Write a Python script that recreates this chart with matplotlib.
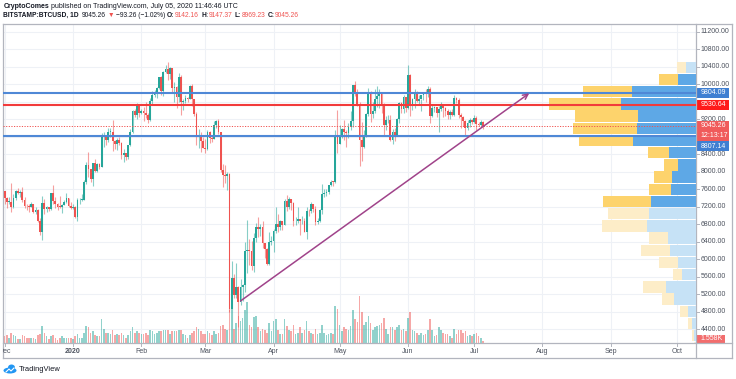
import datetime as dt
import numpy as np
import matplotlib
matplotlib.use("Agg")
import matplotlib.pyplot as plt
from matplotlib.patches import Rectangle, Ellipse
from matplotlib.lines import Line2D
from matplotlib.transforms import Bbox, TransformedBbox

plt.rcParams['font.family'] = ['Liberation Sans', 'DejaVu Sans']

# ---------------- data (BITSTAMP:BTCUSD, daily) ----------------
first_day = dt.date(2019, 11, 30)

opens = [
    7760,
    7555, 7400, 7300, 7300, 7200, 7395, 7545, 7505, 7525, 7345, 7220, 7205, 7195, 7255, 7065, 7115,
    6880, 6615, 7285, 7150, 7190, 7145, 7515, 7320, 7255, 7195, 7190, 7245, 7305, 7385, 7220,
    7170, 7180, 6950, 7340, 7350, 7355, 7760, 8150, 8060, 7820, 8190, 8020, 8180, 8110, 8810, 8820,
    8720, 8900, 8910, 8700, 8630, 8730, 8660, 8380, 8430, 8330, 8600, 8900, 9390, 9290, 9500,
    9340, 9380, 9330, 9290, 9180, 9610, 9750, 9800, 9900, 10160, 9850, 10270, 10350, 10240, 10360,
    9900, 9930, 9700, 10170, 9600, 9610, 9690, 9670, 9960, 9650, 9320, 8780, 8790, 8690,
    8530, 8520, 8900, 8760, 8750, 9070, 9150, 8900, 8030, 7930, 7900, 7940, 4860, 5560, 5170, 5360,
    5020, 5360, 5410, 6190, 6200, 6180, 5830, 6470, 6740, 6680, 6730, 6370, 6240, 5880, 6390,
    6410, 6640, 6800, 6730, 6860, 6770, 7330, 7200, 7370, 7290, 6860, 6880, 6910, 6860, 6860,
    6620, 7110, 7090, 7260, 7150, 6840, 6860, 7120, 7480, 7500, 7540, 7700, 7770, 7760, 8780,
    8620, 8830, 8970, 8900, 8880, 9030, 9150, 9970, 9800, 9540, 8730, 8570, 8810, 9310, 9790, 9310,
    9380, 9670, 9730, 9780, 9510, 9060, 9170, 9180, 8720, 8900, 8840, 9200, 9570, 9430, 9700,
    9450, 10200, 9520, 9660, 9790, 9620, 9660, 9750, 9780, 9770, 9880, 9280, 9460, 9470, 9340,
    9430, 9520, 9450, 9380, 9300, 9360, 9290, 9680, 9630, 9290, 9240, 9160, 9000, 9120, 9190,
    9140, 9230, 9090, 9060, 9142.16,
]
highs = [
    7810,
    7560, 7420, 7410, 7750, 7490, 7580, 7630, 7580, 7640, 7410, 7270, 7260, 7310, 7270, 7180, 7140,
    6940, 7440, 7370, 7220, 7200, 7520, 7690, 7430, 7275, 7440, 7270, 7350, 7520, 7400, 7310,
    7250, 7210, 7400, 7400, 7490, 7800, 8220, 8450, 8060, 8200, 8280, 8190, 8190, 8880, 8900, 8840,
    9000, 8990, 9180, 8720, 8760, 8790, 8670, 8520, 8430, 8600, 8980, 9400, 9420, 9570, 9520,
    9430, 9470, 9600, 9330, 9690, 9850, 9860, 9940, 10160, 10180, 10300, 10430, 10500, 10390, 10380,
    10050, 9960, 10250, 10200, 9650, 9760, 9700, 9990, 10000, 9660, 9370, 8980, 8900, 8800,
    8750, 8950, 8920, 8840, 9160, 9170, 9200, 8900, 8180, 8150, 7980, 7970, 5950, 5650, 5920, 5380,
    5550, 5420, 6400, 6900, 6450, 6420, 6600, 6830, 6960, 6790, 6870, 6370, 6260, 6610, 6520,
    6680, 7200, 7040, 6900, 6880, 7370, 7460, 7420, 7380, 7300, 6950, 7180, 6910, 6990, 6930,
    7180, 7140, 7300, 7260, 7220, 6940, 7150, 7720, 7600, 7600, 7700, 7800, 7790, 8950, 9400,
    9060, 9000, 9190, 8950, 9100, 9390, 9980, 10070, 9890, 9580, 9130, 8960, 9330, 9900, 9840, 9580,
    9880, 9950, 9880, 9830, 9560, 9260, 9300, 9300, 8970, 8990, 9220, 9600, 9600, 9740, 9700,
    10430, 10230, 9690, 9880, 9850, 9740, 9670, 9800, 9880, 9960, 9940, 9550, 9490, 9480, 9500,
    9580, 9550, 9480, 9440, 9400, 9420, 9760, 9700, 9680, 9330, 9270, 9190, 9170, 9230, 9200,
    9290, 9270, 9130, 9190, 9147.37,
]
lows = [
    7460,
    7250, 7160, 7250, 7080, 7170, 7340, 7480, 7420, 7300, 7170, 7130, 7080, 7190, 7050, 7020, 6850,
    6560, 6430, 7040, 7080, 7110, 7130, 7270, 7160, 7130, 7160, 7060, 7230, 7280, 7200, 7150,
    7150, 6930, 6870, 7260, 7320, 7350, 7720, 7870, 7770, 7660, 8000, 7980, 8050, 8100, 8570, 8600,
    8680, 8800, 8470, 8520, 8500, 8600, 8290, 8230, 8270, 8290, 8580, 8880, 9240, 9210, 9240,
    9310, 9160, 9230, 9120, 9160, 9530, 9710, 9680, 9880, 9740, 9730, 10250, 10100, 10120, 9800,
    9600, 9450, 9600, 9300, 9400, 9570, 9600, 9660, 9500, 9280, 8600, 8550, 8450, 8530,
    8420, 8500, 8660, 8680, 8750, 8990, 8860, 8000, 7640, 7740, 7590, 4780, 3850, 5100, 5120, 4450,
    4940, 5040, 5250, 5670, 5860, 5760, 5700, 6390, 6500, 6530, 6250, 6030, 5860, 5860, 6330,
    6150, 6590, 6610, 6660, 6660, 6770, 7100, 7150, 7130, 6760, 6780, 6820, 6560, 6790, 6620,
    6460, 6980, 7060, 7080, 6780, 6800, 6840, 7030, 7420, 7450, 7480, 7660, 7680, 7730, 8420,
    8620, 8770, 8720, 8560, 8770, 8950, 9030, 9720, 9500, 8120, 8250, 8550, 8800, 9260, 9130, 9220,
    9350, 9480, 9460, 9330, 8830, 8960, 9100, 8700, 8640, 8700, 8820, 9110, 9330, 9330, 9370,
    9420, 9270, 9400, 9450, 9580, 9530, 9380, 9630, 9600, 9700, 9110, 9250, 9370, 9250, 8900,
    9380, 9250, 9280, 9210, 9200, 9280, 9280, 9560, 9230, 9000, 9040, 8840, 8940, 9020, 9090,
    9100, 8960, 9040, 9050, 8969.23,
]
closes = [
    7555,
    7400, 7300, 7300, 7200, 7395, 7545, 7505, 7525, 7345, 7220, 7205, 7195, 7255, 7065, 7115, 6880,
    6615, 7285, 7150, 7190, 7145, 7515, 7320, 7255, 7195, 7190, 7245, 7305, 7385, 7220, 7170,
    7180, 6950, 7340, 7350, 7355, 7760, 8150, 8060, 7820, 8190, 8020, 8180, 8110, 8810, 8820, 8720,
    8900, 8910, 8700, 8630, 8730, 8660, 8380, 8430, 8330, 8600, 8900, 9390, 9290, 9500, 9340,
    9380, 9330, 9290, 9180, 9610, 9750, 9800, 9900, 10160, 9850, 10270, 10350, 10240, 10360, 9900,
    9930, 9700, 10170, 9600, 9610, 9690, 9670, 9960, 9650, 9320, 8780, 8790, 8690, 8530,
    8520, 8900, 8760, 8750, 9070, 9150, 8900, 8030, 7930, 7900, 7940, 4860, 5560, 5170, 5360, 5020,
    5360, 5410, 6190, 6200, 6180, 5830, 6470, 6740, 6680, 6730, 6370, 6240, 5880, 6390, 6410,
    6640, 6800, 6730, 6860, 6770, 7330, 7200, 7370, 7290, 6860, 6880, 6910, 6860, 6860, 6620,
    7110, 7090, 7260, 7150, 6840, 6860, 7120, 7480, 7500, 7540, 7700, 7770, 7760, 8780, 8620,
    8830, 8970, 8900, 8880, 9030, 9150, 9970, 9800, 9540, 8730, 8570, 8810, 9310, 9790, 9310, 9380,
    9670, 9730, 9780, 9510, 9060, 9170, 9180, 8720, 8900, 8840, 9200, 9570, 9430, 9700, 9450,
    10200, 9520, 9660, 9790, 9620, 9660, 9750, 9780, 9770, 9880, 9280, 9460, 9470, 9340, 9430,
    9520, 9450, 9380, 9300, 9360, 9290, 9680, 9630, 9290, 9240, 9160, 9000, 9120, 9190, 9140,
    9230, 9090, 9060, 9142.16, 9045.26,
]
# volume, thousands of BTC
volumes = [
    6,
    5, 6, 4, 8, 6, 5, 3, 3, 6, 5, 4, 4, 4, 4, 3, 6, 7, 13, 8, 5, 3, 5, 6, 4, 2, 4, 5, 4, 4, 4, 4,
    3, 5, 7, 4, 4, 8, 13, 12, 8, 9, 6, 5, 5, 18, 11, 8, 8, 7, 10, 6, 7, 6, 8, 6, 4, 6, 9, 12, 8, 9, 8,
    7, 7, 8, 6, 10, 9, 7, 8, 9, 9, 10, 10, 10, 7, 9, 9, 9, 10, 10, 7, 6, 4, 6, 8, 9, 12, 11, 9, 7,
    7, 9, 8, 6, 9, 7, 8, 13, 14, 11, 10, 25, 28, 11, 15, 21, 17, 19, 25, 31, 14, 12, 20, 21, 12, 9,
    11, 10, 8, 15, 9,
    17, 18, 10, 7, 7, 18, 13, 10, 9, 14, 7, 8, 12, 8, 10, 17, 9, 8, 7, 11, 7, 8, 14, 8, 6, 7, 8, 7,
    28, 26,
    14, 9, 12, 11, 10, 13, 25, 18, 16, 36, 24, 14, 16, 21, 15, 10, 12, 13, 14, 15, 19, 11, 7, 12, 12,
    10, 12, 14, 10, 11, 9,
    19, 24, 10, 9, 8, 6, 8, 6, 7, 10, 18, 10, 5, 6, 12, 10, 8, 7, 7, 5, 4, 11, 7, 10, 10, 8, 9, 5, 6, 5,
    7, 8, 5, 4, 1.558,
]

# horizontal levels drawn on the chart
resistance_hi = 9804.09
resistance_mid = 9530.64
support = 8807.14
last_price = 9045.26
countdown = "12:13:17"
last_volume_label = "1.558K"

# trend line (date, price)
trend_start = (dt.date(2020, 3, 17), 5041)
trend_end = (dt.date(2020, 7, 26), 9790)

# visible-range volume profile (top row first), thousands of BTC
vp_top = 10513
vp_step = 279
vp_up = [31, 54, 191, 225, 175, 178, 188, 80, 55, 73, 75, 136, 141, 146, 83, 79, 55, 43, 91, 66, 25, 13, 7, 4]
vp_down = [26, 57, 148, 216, 188, 191, 163, 65, 40, 53, 66, 144, 122, 137, 58, 86, 55, 26, 67, 36, 23, 10, 4, 3]
va_rows = (1, 11)  # value area rows (inclusive)

price_ticks = [4400, 4800, 5200, 5600, 6000, 6400, 6800, 7200, 7600, 8000, 8400, 8800,
               9200, 9600, 10000, 10400, 10800, 11200]
hidden_ticks = [8800, 9600]
time_ticks = [(dt.date(2019, 12, 1), "Dec"), (dt.date(2020, 1, 1), "2020"),
              (dt.date(2020, 2, 1), "Feb"), (dt.date(2020, 3, 1), "Mar"),
              (dt.date(2020, 4, 1), "Apr"), (dt.date(2020, 5, 1), "May"),
              (dt.date(2020, 6, 1), "Jun"), (dt.date(2020, 7, 1), "Jul"),
              (dt.date(2020, 8, 1), "Aug"), (dt.date(2020, 9, 1), "Sep"),
              (dt.date(2020, 10, 1), "Oct")]

# ---------------- layout ----------------
W, H, DPI = 736, 379, 100
ref = dt.date(2020, 1, 1)
def dnum(d):
    return (d - ref).days

opens = np.array(opens, float); highs = np.array(highs, float)
lows = np.array(lows, float); closes = np.array(closes, float)
volumes = np.array(volumes, float)
days = np.arange(len(closes)) + dnum(first_day)

fig = plt.figure(figsize=(W / DPI, H / DPI), dpi=DPI)
fig.patch.set_facecolor("white")

def fx(px):
    return px / W
def fy(py):
    return 1 - py / H

L, R, T, B = 3, 696, 24, 343
rect = [fx(L), fy(B), (R - L) / W, (B - T) / H]
X0, X1 = -31.76, 282.67
Y0, Y1 = 4080, 11375

axes = []
for z in range(4):
    a = fig.add_axes(rect, zorder=z)
    a.set_facecolor("none")
    for s in a.spines.values():
        s.set_visible(False)
    a.set_xticks([]); a.set_yticks([])
    a.set_xlim(X0, X1)
    axes.append(a)
ax_grid, ax_vol, ax_vp, ax = axes
ax_grid.set_facecolor("white")
for a in (ax_grid, ax):
    a.set_ylim(Y0, Y1)

def py_of(p):
    return T + (Y1 - p) / (Y1 - Y0) * (B - T)

# grid
grid_c = "#eef1f6"
for p in price_ticks:
    ax_grid.axhline(p, color=grid_c, lw=0.8)
for d, lab in time_ticks:
    ax_grid.axvline(dnum(d), color=grid_c, lw=0.8)

# volume
ax_vol.set_ylim(0, 244)
up = closes >= opens
vcol = np.where(up, "#26a69a", "#ef5350")
ax_vol.bar(days, volumes, width=0.72, color=vcol, alpha=0.5, lw=0)

# volume profile
ax_vp.set_ylim(Y0, Y1)
ax_vp.set_xlim(2079, 0)
for i, (u, dn) in enumerate(zip(vp_up, vp_down)):
    top = vp_top - i * vp_step
    bottom = top - vp_step * 0.93
    inside = va_rows[0] <= i <= va_rows[1]
    cu = "#5ea8e6" if inside else "#c6e2f6"
    cd = "#fdd36c" if inside else "#fdedc8"
    ax_vp.barh(bottom, u, left=0, height=top - bottom, align="edge", color=cu, lw=0)
    ax_vp.barh(bottom, dn, left=u, height=top - bottom, align="edge", color=cd, lw=0)

# candles
ccol = np.where(up, "#26a69a", "#ef5350")
ax.vlines(days, lows, highs, colors=ccol, lw=0.8, alpha=0.55)
body_lo = np.minimum(opens, closes)
body_h = np.maximum(np.abs(closes - opens), 18)
ax.bar(days, body_h, bottom=body_lo, width=0.8, color=ccol, lw=0)

# horizontal levels
ax.axhline(resistance_hi, color="#4f88d6", lw=1.5)
ax.axhline(support, color="#4f88d6", lw=1.5)
ax.axhline(resistance_mid, color="#f23b3b", lw=1.5)
ax.axhline(last_price, color="#ef5350", lw=0.7, ls=(0, (1.2, 1.5)))

# trend line with arrow
ts = (dnum(trend_start[0]), trend_start[1])
te = (dnum(trend_end[0]), trend_end[1])
ax.annotate("", xy=te, xytext=ts,
            arrowprops=dict(arrowstyle="->", color="#a0438a", lw=1.1,
                            mutation_scale=9, shrinkA=0, shrinkB=0))

# ---------------- frame ----------------
frame_c = "#b2b5be"
def fline(x0, y0, x1, y1, c=frame_c, lw=0.9):
    fig.add_artist(Line2D([fx(x0), fx(x1)], [fy(y0), fy(y1)], color=c, lw=lw,
                          transform=fig.transFigure))
fline(3, 24, 732, 24)
fline(3, 24, 3, 358)
fline(732, 24, 732, 358)
fline(3, 358, 732, 358)
fline(696, 24, 696, 358)
fline(3, 343, 732, 343)

txt_c = "#4c525e"
FS = 5.0
# price axis labels
for p in price_ticks:
    if p in hidden_ticks:
        continue
    y = py_of(p)
    fline(696, y, 699, y, c=frame_c, lw=0.7)
    fig.text(fx(700.5), fy(y), f"{p:.2f}", fontsize=FS, color=txt_c, va="center", ha="left")

def tag(yc, text, color, h=10, x1=729):
    fig.add_artist(Rectangle((fx(696), fy(yc + h / 2)), (x1 - 696) / W, h / H,
                             transform=fig.transFigure, color=color, lw=0))
    fig.text(fx(700.5), fy(yc), text, fontsize=FS, color="white", va="center", ha="left")

tag(py_of(resistance_hi), f"{resistance_hi:.2f}", "#3f7fd2")
tag(py_of(resistance_mid), f"{resistance_mid:.2f}", "#ff1a1a")
yl = py_of(last_price)
tag(yl, f"{last_price:.2f}", "#f05b5b")
tag(yl + 10, countdown, "#f05b5b")
tag(yl + 20.5, f"{support:.2f}", "#3f7fd2")
tag(338.5, last_volume_label, "#f26d6d", h=8, x1=725)

# time axis labels
clipbox = TransformedBbox(Bbox.from_extents(fx(3), 0, fx(696), 1), fig.transFigure)
for d, lab in time_ticks:
    xpx = 73 + dnum(d) * 2.204
    if xpx > 3:
        fline(xpx, 343, xpx, 345.5, lw=0.7)
    t = fig.text(fx(xpx), fy(351.5), lab, fontsize=FS, color=txt_c, ha="center", va="center",
                 fontweight="bold" if lab == "2020" else "normal")
    t.set_clip_box(clipbox)
    t.set_clip_on(True)

# header, laid out piece by piece
hdr_c = "#131722"
red = "#ef5350"
renderer = fig.canvas.get_renderer()

def run(y, pieces, size, x=3.3):
    for s, c, w, gap in pieces:
        t = fig.text(fx(x), fy(y), s, fontsize=size, color=c, fontweight=w, va="center", ha="left",
                     family=["Liberation Sans", "DejaVu Sans"])
        bb = t.get_window_extent(renderer)
        x = bb.x1 + gap

run(6.3, [("CryptoComes", hdr_c, "bold", 1.6),
          ("published on TradingView.com, July 05, 2020 11:46:46 UTC", hdr_c, "normal", 0)], 5.0)
run(15.3, [("BITSTAMP:BTCUSD, 1D", hdr_c, "bold", 2.6),
           ("9045.26", hdr_c, "normal", 1.8),
           ("\u25BC", red, "normal", 1.8),
           ("\u221293.26 (\u22121.02%)", hdr_c, "normal", 2.3),
           ("O:", hdr_c, "bold", 0.4), ("9142.16", red, "normal", 2.3),
           ("H:", hdr_c, "bold", 0.4), ("9147.37", red, "normal", 2.3),
           ("L:", hdr_c, "bold", 0.4), ("8969.23", red, "normal", 2.3),
           ("C:", hdr_c, "bold", 0.4), ("9045.26", red, "normal", 0)], 4.8)

# TradingView watermark
logo_c = "#2196f3"
fig.add_artist(Ellipse((fx(10), fy(370.5)), 13 / W, 6 / H, transform=fig.transFigure, color=logo_c, lw=0))
fig.add_artist(Ellipse((fx(11.5), fy(367.5)), 7 / W, 6 / H, transform=fig.transFigure, color=logo_c, lw=0))
fig.add_artist(Line2D([fx(6), fx(9), fx(11), fx(14)], [fy(372), fy(369), fy(371), fy(368)],
                      color="white", lw=0.8, transform=fig.transFigure))
fig.text(fx(19), fy(369.5), "TradingView", fontsize=5.4, color=hdr_c, va="center", ha="left")

fig.savefig("out.png", dpi=DPI, facecolor="white")
